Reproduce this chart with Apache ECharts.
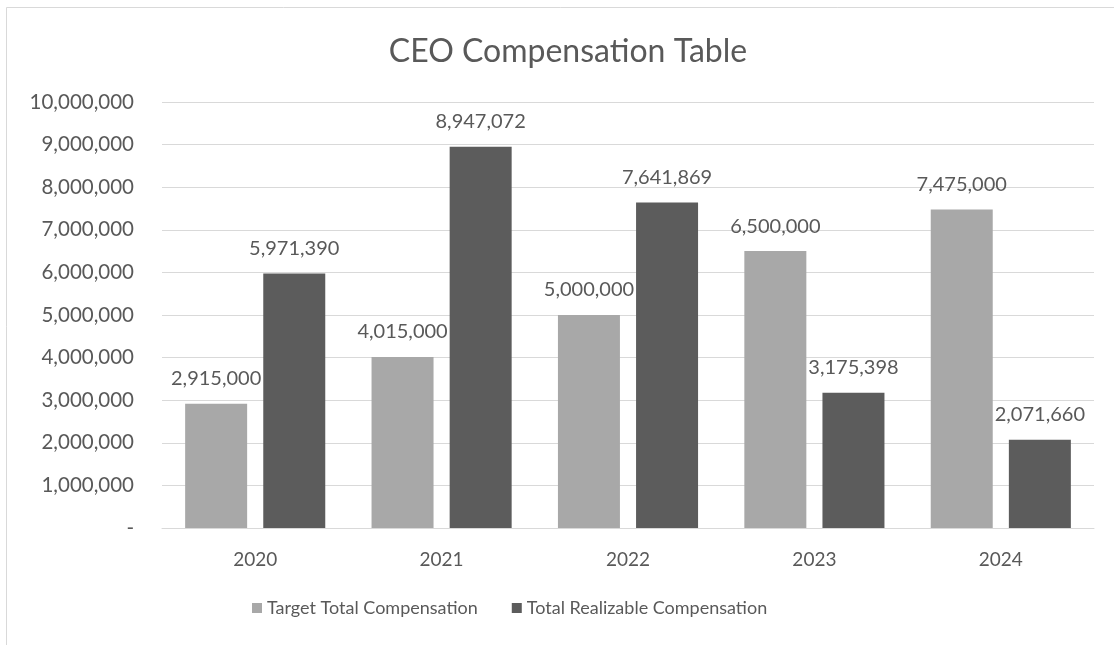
<!DOCTYPE html>
<html>
<head>
<meta charset="utf-8">
<script src="https://cdn.jsdelivr.net/npm/echarts@6/dist/echarts.min.js"></script>
<style>
html,body{margin:0;padding:0;background:#fff;}
#chart{width:1114px;height:645px;}
</style>
</head>
<body>
<div id="chart"></div>
<script>
const titleText = 'CEO Compensation Table';
const categories = ['2020', '2021', '2022', '2023', '2024'];
const seriesNames = ['Target Total Compensation', 'Total Realizable Compensation'];
const targetTotal = [2915000, 4015000, 5000000, 6500000, 7475000];
const totalRealizable = [5971390, 8947072, 7641869, 3175398, 2071660];
const yMin = 0, yMax = 10000000, yInterval = 1000000;

const FONT = 'Lato';
const TXT = '#595959';
const fmt = v => v === 0 ? '-' : v.toLocaleString('en-US');

const chart = echarts.init(document.getElementById('chart'));
chart.setOption({
  backgroundColor: '#fff',
  animation: false,
  graphic: [{
    type: 'rect', silent: true, z: -10,
    shape: { x: 6.5, y: 7.5, width: 1200, height: 700 },
    style: { fill: 'none', stroke: '#D9D9D9', lineWidth: 1 }
  }],
  title: {
    text: titleText,
    left: 563, top: 31, textAlign: 'center',
    textStyle: { fontFamily: FONT, fontSize: 32, fontWeight: 'normal', color: TXT }
  },
  legend: {
    bottom: 23, left: 247,
    itemWidth: 10, itemHeight: 10, itemGap: 34,
    icon: 'rect',
    textStyle: { fontFamily: FONT, fontSize: 18, color: TXT },
    data: seriesNames
  },
  grid: { left: 162, right: 20, top: 102, bottom: 117 },
  xAxis: {
    type: 'category', data: categories,
    axisLine: { lineStyle: { color: '#D9D9D9' } },
    axisTick: { show: false },
    axisLabel: { fontFamily: FONT, fontSize: 19, color: TXT, margin: 22 }
  },
  yAxis: {
    type: 'value', min: yMin, max: yMax, interval: yInterval,
    axisLine: { show: false }, axisTick: { show: false },
    splitLine: { lineStyle: { color: '#D9D9D9', width: 1 } },
    axisLabel: { fontFamily: FONT, fontSize: 20.5, color: TXT, margin: 28, formatter: fmt }
  },
  series: [
    {
      name: seriesNames[0], type: 'bar', data: targetTotal,
      barWidth: 62, barGap: '26%',
      itemStyle: { color: '#A8A8A8' },
      label: { show: true, position: 'top', distance: 15, fontFamily: FONT, fontSize: 20, color: TXT, formatter: p => fmt(p.value) }
    },
    {
      name: seriesNames[1], type: 'bar', data: totalRealizable,
      barWidth: 62, barGap: '26%',
      itemStyle: { color: '#5C5C5C' },
      label: { show: true, position: 'top', distance: 15, fontFamily: FONT, fontSize: 20, color: TXT, formatter: p => fmt(p.value) }
    }
  ]
});
</script>
</body>
</html>
